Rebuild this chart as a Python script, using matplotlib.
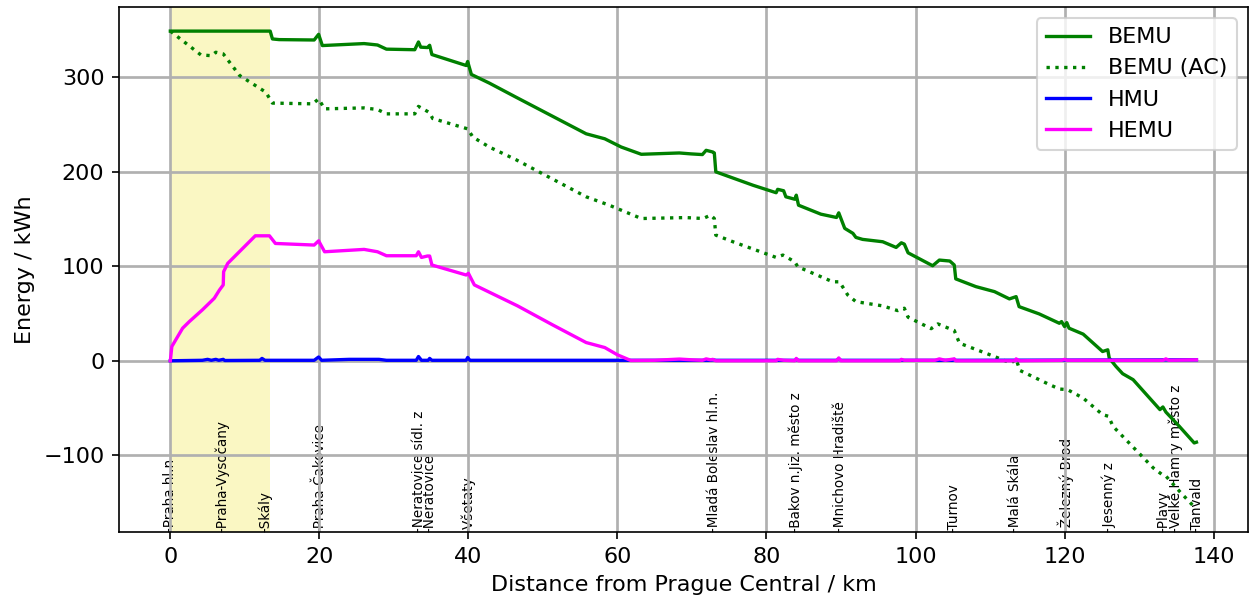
import matplotlib
matplotlib.use('Agg')
import matplotlib.pyplot as plt
import matplotlib.transforms as mtransforms

plt.rcParams['font.size'] = 10.7

# stations along the Praha - Tanvald line (km from Praha hl.n.)
station_names = ['Praha hl.n', 'Praha-Vysočany', 'Skály', 'Praha-Čakovice',
                 'Neratovice sídl. z', 'Neratovice', 'Všetaty',
                 'Mladá Boleslav hl.n.', 'Bakov n.Jiz. město z',
                 'Mnichovo Hradiště', 'Turnov', 'Malá Skála', 'Železný Brod',
                 'Jesenný z', 'Plavy', 'Velké Hamry město z', 'Tanvald']
station_km = [0.0, 6.9, 12.7, 20.0, 33.4, 34.8, 40.0, 73.0, 83.9, 89.8,
              105.1, 113.4, 120.1, 125.9, 133.3, 134.9, 137.7]

# electrified section where the batteries are charged
charge_start, charge_end = 0.0, 13.4

bemu_km = [0, 13.4, 13.7, 14.6, 19.3, 19.9, 20.4, 26.0, 27.8, 29.0, 32.8, 33.3,
           33.6, 34.5, 34.8, 35.1, 39.7, 39.9, 40.4, 42.8, 46.4, 55.8, 58.3,
           60.5, 63.2, 68.3, 69.9, 71.4, 71.9, 72.8, 73.0, 73.2, 78.2, 81.3,
           81.5, 82.3, 82.6, 83.8, 84.0, 84.3, 87.3, 89.4, 89.7, 90.5, 91.6,
           92.0, 92.9, 95.6, 97.4, 98.1, 98.5, 99.0, 102.3, 103.2, 104.6,
           105.2, 105.4, 108.1, 110.6, 112.6, 113.5, 113.9, 116.6, 119.3,
           119.6, 120.0, 120.3, 120.6, 122.5, 125.1, 125.8, 126.0, 126.9,
           127.8, 129.2, 132.8, 133.2, 133.6, 135.4, 136.8, 137.4, 137.7]
bemu_kwh = [349, 349, 340.7, 340, 339.6, 345.6, 333.7, 335.8, 334.3, 329.9,
            329.3, 337.5, 332, 331.6, 334, 324.2, 312.6, 316.8, 303.1, 294,
            279, 240.3, 235, 226.3, 218.6, 220, 219, 218.3, 222.8, 221, 220,
            200, 185.8, 177.9, 181.5, 180, 173.6, 171, 175.3, 164.7, 155.2,
            151.7, 156.6, 140.2, 134.9, 130.6, 128.5, 126, 120, 124.9, 123.5,
            114.3, 100.6, 106.6, 105.6, 101.4, 86.7, 78.5, 73.2, 65.5, 67.9,
            57.3, 49.6, 39.7, 41.5, 36.2, 40.4, 34.5, 28.2, 9.8, 11.6, 2.8,
            -6.0, -13.7, -20, -51.7, -48.9, -54.3, -69.4, -81.7, -87, -86.2]

bemu_ac_km = [0, 4.1, 5.5, 6.1, 7.1, 9.3, 12.8, 13.7, 19.1, 19.9, 20.7, 26.0,
              27.8, 29.0, 32.8, 33.3, 34.5, 34.8, 35.2, 39.9, 40.6, 42.8, 46.4,
              55.8, 58.9, 63.2, 69.2, 71.5, 72.5, 73.0, 73.2, 75.5, 81.3, 82.2,
              83.8, 84.2, 88.9, 89.8, 90.9, 92.0, 95.6, 97.6, 98.5, 99.0,
              102.1, 103.0, 105.2, 105.9, 110.6, 112.8, 113.5, 114.0, 118.0,
              119.3, 120.4, 122.5, 125.1, 125.9, 126.5, 131.9, 133.2, 133.6,
              135.6, 137.2, 137.7]
bemu_ac_kwh = [349, 323.8, 323, 326.6, 324.9, 302, 284.4, 272.8, 272, 277.2,
               266.7, 267.7, 266, 261.4, 261.4, 269.3, 264, 262.5, 256.5,
               245.5, 236.8, 226.3, 212.8, 173.6, 164.7, 150.6, 151.6, 150.6,
               154.2, 150.6, 133, 126, 109.4, 111.9, 104.8, 99.5, 83.6, 83.6,
               69.7, 62.6, 58.1, 53.1, 55.6, 46.1, 34, 39, 32, 18.6, 4.5, -2.5,
               1.8, -10.2, -25.3, -29.9, -30.6, -39.5, -57, -58.8, -69.4,
               -113.4, -121.1, -122.1, -139.7, -153, -156]

hmu_km = [0, 4.3, 5.0, 5.5, 6.1, 6.5, 7.1, 7.3, 12.0, 12.3, 12.7, 19.3, 19.9,
          20.3, 24.0, 28.0, 29.0, 33.0, 33.3, 33.7, 34.6, 34.8, 35.1, 39.7,
          39.9, 40.2, 61.8, 72.5, 72.8, 73.2, 83.8, 84.0, 84.3, 89.4, 89.7,
          90.0, 105.0, 105.2, 105.4, 137.7]
hmu_kwh = [0, 0.5, 1.5, 0.5, 1.5, 0.5, 1.5, 0.3, 0.5, 2.5, 0.5, 0.5, 4, 0.5,
           1.5, 1.5, 0.5, 0.5, 4.5, 0.5, 0.5, 2.5, 0.5, 0.5, 3.5, 0.5, 0.5,
           0.5, 1, 0.5, 0.5, 1.5, 0.5, 0.5, 2, 0.5, 0.5, 1.5, 0.5, 1]

hemu_km = [0, 0.2, 1.65, 2.55, 4.3, 5.9, 6.6, 7.1, 7.15, 7.7, 11.4, 13.3, 14.1,
           19.3, 19.9, 20.7, 26.0, 27.8, 29.0, 33.0, 33.3, 33.7, 34.5, 34.8,
           35.1, 39.7, 40.0, 40.8, 46.6, 51.3, 55.8, 58.3, 60.0, 61.8, 65.0,
           68.3, 70.0, 71.4, 71.9, 72.5, 72.8, 73.2, 81.3, 81.5, 82.3, 83.8,
           84.0, 84.3, 89.4, 89.7, 90.0, 97.9, 98.1, 98.5, 102.6, 103.2, 104.0,
           105.2, 105.4, 113.4, 113.5, 113.9, 119.6, 120.0, 120.3, 133.2,
           133.6, 134.0, 137.7]
hemu_kwh = [0, 15.1, 34.5, 41.5, 53.9, 66.2, 75, 80.3, 94.3, 103.1, 132.3,
            132.3, 124.2, 122.5, 127, 115.4, 117.9, 115.4, 111.2, 111.2, 115.4,
            109.4, 110.9, 110.9, 101.4, 90.8, 92.6, 80.3, 58.1, 38, 19.3, 14,
            6.3, 0.3, 0.5, 1.8, 1, 0.5, 2, 1, 1.5, 0, 0, 1.5, 0.5, 0, 2.5, 0,
            0, 3, 0, 0, 1.5, 0.5, 0.5, 2, 0.5, 2, 0, 0, 2, 0, 0.5, 1.5, 0.5,
            0.5, 2, 0.5, 1]

fig, ax = plt.subplots(figsize=(1249 / 150, 605 / 150), dpi=150)
fig.subplots_adjust(left=0.0953, right=0.999, bottom=0.1207, top=0.988)

ax.axvspan(charge_start, charge_end, color='#faf7c3', lw=0, zorder=1)

ax.plot(bemu_km, bemu_kwh, color='green', ls='-', lw=1.6, label='BEMU')
ax.plot(bemu_ac_km, bemu_ac_kwh, color='green', ls=':', lw=1.6,
        label='BEMU (AC)')
ax.plot(hmu_km, hmu_kwh, color='blue', lw=1.6, label='HMU')
ax.plot(hemu_km, hemu_kwh, color='magenta', lw=1.6, label='HEMU')

ax.grid(True, color='#b0b0b0', linewidth=1.3)
ax.set_xticks(range(0, 141, 20))
ax.set_yticks([-100, 0, 100, 200, 300])
ax.set_xlabel('Distance from Prague Central / km')
ax.set_ylabel('Energy / kWh')
ax.legend(loc='upper right')

# station names along the bottom edge
trans = mtransforms.blended_transform_factory(ax.transData, ax.transAxes)
for km, name in zip(station_km, station_names):
    ax.text(km, 0.0, '-' + name, transform=trans, rotation=90, fontsize=6.5,
            ha='center', va='bottom', zorder=1.2)

fig.savefig('out.png', dpi=150)
